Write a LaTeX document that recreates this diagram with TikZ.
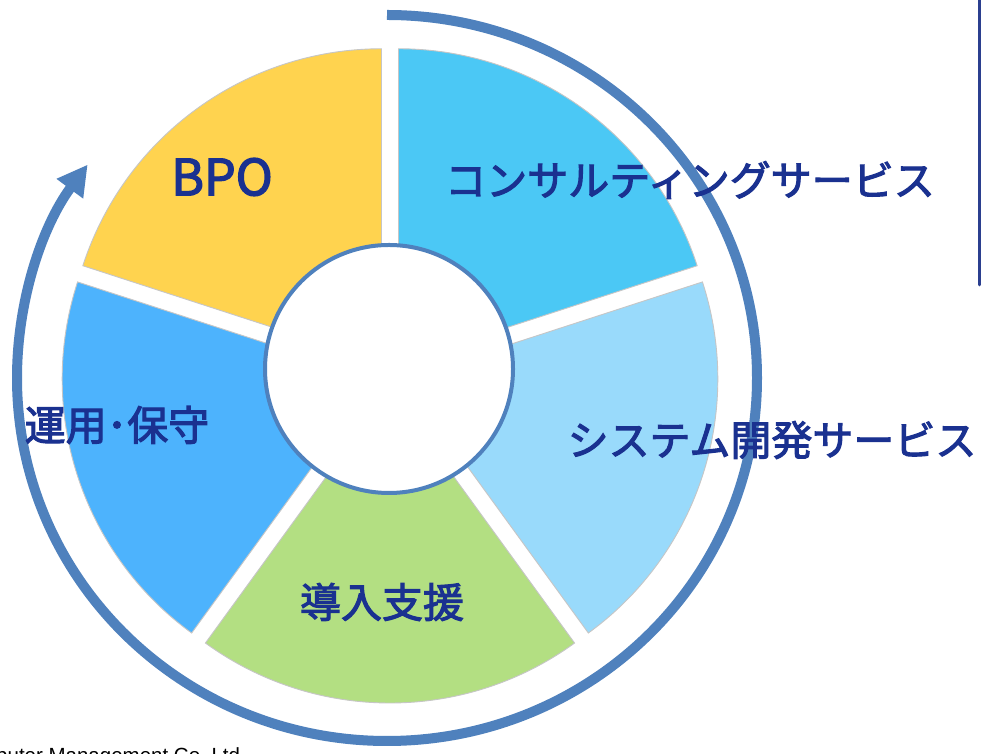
\documentclass[tikz,border=0pt]{standalone}
\usepackage{fontspec}
\setmainfont{Noto Sans CJK JP}
\newfontfamily\jpfont{Noto Sans CJK JP}[FakeBold=2.6]
\newfontfamily\latinsans{Liberation Sans}
\usetikzlibrary{arrows.meta,calc}
\definecolor{ringc}{HTML}{4F81BD}
\definecolor{navyc}{HTML}{1A3190}
\definecolor{boxc}{HTML}{2B3F8F}
\definecolor{yellowc}{HTML}{FFD34F}
\definecolor{cyanc}{HTML}{4BC8F5}
\definecolor{lightc}{HTML}{99DAFB}
\definecolor{bluec}{HTML}{4DB3FD}
\definecolor{greenc}{HTML}{B3DF82}
\tikzset{
  wedge/.style={draw=gray!45, line width=0.9pt},
  label/.style={text=navyc, font=\jpfont\fontsize{41}{41}\selectfont, inner sep=0pt}
}
\begin{document}
\begin{tikzpicture}[x=1pt,y=1pt]
\useasboundingbox (0,0) rectangle (982,754);
\fill[white] (0,0) rectangle (982,754);
\coordinate (pc) at (390,379.5);
% wedges (exploded pie)
\foreach \aa/\bb/\cc in {90/162/yellowc, 18/90/cyanc, -54/18/lightc, -126/-54/greenc, 162/234/bluec}{
  \pgfmathsetmacro{\mid}{(\aa+\bb)/2}
  \filldraw[wedge, fill=\cc] ($(pc)+(\mid:14.5pt)$) -- ++(\aa:314pt)
     arc[start angle=\aa, end angle=\bb, radius=314pt] -- cycle;
}
% inner circle
\node[circle, draw=ringc, line width=4pt, fill=white, minimum size=248pt, inner sep=0pt] (hub) at (389,385) {};
% outer cycle arrow
\coordinate (ringstart) at (387,739);
\draw[ringc, line width=10pt, -{Triangle[length=30pt,width=31pt]}] (ringstart)
  arc[start angle=90, end angle=-216, x radius=370pt, y radius=363pt];
% right box edge
\draw[boxc, line width=3pt, line cap=round] (979,760) -- (979,469);
% labels
\node[label, font=\jpfont\fontsize{50}{50}\selectfont] (bpo) at (222,577) {BPO};
\node[label] (cons) at (690,574) {コンサルティングサービス};
\node[label] (sys) at (772,314) {システム開発サービス};
\node[label] (ops) at (117,329) {運用･保守};
\node[label] (intro) at (382,152) {導入支援};
% footer
\node[anchor=base east, inner sep=0pt, font=\latinsans\fontsize{20.5}{20.5}\selectfont] (foot) at (246,-9) {Computer Management Co.,Ltd.};
\end{tikzpicture}
\end{document}
